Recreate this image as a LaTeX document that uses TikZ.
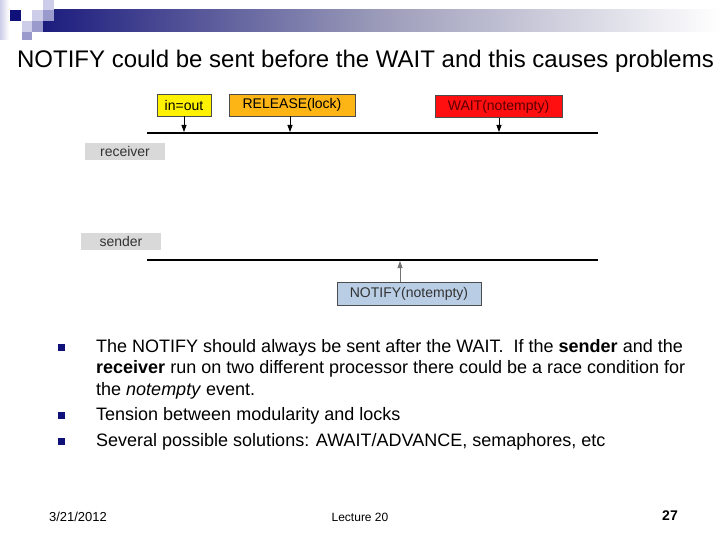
\documentclass[tikz,border=0pt]{standalone}
\usepackage{fontspec}
\setmainfont{Liberation Sans}
\usepackage{tikz}
\usetikzlibrary{arrows.meta}
\definecolor{navyblue}{HTML}{10107A}
\definecolor{lavlight}{HTML}{CDCDEA}
\definecolor{lavmid}{HTML}{9A9ACC}
\definecolor{barleft}{HTML}{1C1C7E}
\definecolor{barmid}{HTML}{9C9CBA}
\definecolor{labelgray}{HTML}{D9D9D9}
\definecolor{notifyblue}{HTML}{B9CDE5}
\definecolor{releaseorange}{HTML}{FDB515}
\definecolor{waitred}{HTML}{FF0F0F}
\definecolor{waittext}{HTML}{5A0000}

\begin{document}
\begin{tikzpicture}[x=1pt,y=-1pt,
    event/.style={draw=black!70,line width=0.6pt,minimum height=22pt,inner sep=0pt,
      font=\fontsize{14}{16}\selectfont},
    who/.style={fill=labelgray,minimum width=80pt,minimum height=17pt,inner sep=0pt,
      text=black!80,font=\fontsize{14}{16}\selectfont},
    timeline/.style={line width=2.4pt},
    tick/.style={line width=0.8pt,-{Triangle[length=7pt,width=5pt]}},
    bullet/.style={fill=navyblue,minimum size=7pt,inner sep=0pt},
    item/.style={anchor=north west,inner sep=0pt,align=left,
      font=\fontsize{18}{21.5}\selectfont}]
  \useasboundingbox (0,0) rectangle (720,540);
  % header
  \shade[left color=lavlight,right color=white] (0,0) rectangle (9,40);
  \shade[left color=barleft,right color=white,middle color=barmid] (43,10) rectangle (720,32);
  \fill[navyblue] (10,10) rectangle (21,21);
  \fill[lavlight] (32,10) rectangle (43,21);
  \fill[lavlight] (43,0) rectangle (54,10);
  \fill[lavmid] (43,10) rectangle (54,21);
  \fill[lavlight] (22,21) rectangle (32,32);
  \fill[lavmid] (32,21) rectangle (43,32);
  \fill[lavmid] (22,32) rectangle (32,40);
  \node (title) at (365.5,61) {\fontsize{24}{28}\selectfont NOTIFY could be sent before the WAIT and this causes problems};
  % receiver
  \node[event,fill=yellow,minimum width=54pt] (inout) at (184,105) {in=out};
  \node[event,fill=releaseorange,minimum width=126pt] (release) at (292,105) {RELEASE(lock)};
  \node[event,fill=waitred,text=waittext,minimum width=127pt] (wait) at (498.5,106.5) {WAIT(notempty)};
  \coordinate (rstart) at (147,133);
  \coordinate (rend) at (598,133);
  \draw[timeline] (rstart) -- (rend);
  \coordinate (r1) at (184,132);
  \coordinate (r2) at (290,132);
  \coordinate (r3) at (499,132);
  \draw[tick] (inout.south) -- (r1);
  \draw[tick] (r2 |- release.south) -- (r2);
  \draw[tick] (r3 |- wait.south) -- (r3);
  \node[who] (receiver) at (125,151.5) {receiver};
  % sender
  \node[who] (sender) at (121,241.5) {sender};
  \coordinate (sstart) at (147,260);
  \coordinate (send) at (598,260);
  \draw[timeline] (sstart) -- (send);
  \node[event,fill=notifyblue,text=black!80,minimum width=144pt,minimum height=23pt] (notify) at (409,293.5) {NOTIFY(notempty)};
  \coordinate (s1) at (400,261);
  \draw[tick,draw=black!55,{Triangle[length=7pt,width=5pt]}-] (s1) -- (s1 |- notify.north);
  % bullets
  \node[bullet] (b1) at (61,347) {};
  \node[bullet] (b2) at (61,415) {};
  \node[bullet] (b3) at (61,441) {};
  \node[item] (t1) at (96,339) {The NOTIFY should always be sent after the WAIT.\ \ If the \textbf{sender} and the\\
    \textbf{receiver} run on two different processor there could be a race condition for\\
    the \textit{notempty} event.};
  \node[item] (t2) at (96,407) {Tension between modularity and locks};
  \node[item] (t3) at (96,433) {Several possible solutions: AWAIT/ADVANCE, semaphores, etc};
  % footer
  \node[font=\fontsize{13}{15}\selectfont] (date) at (78,517) {3/21/2012};
  \node[font=\fontsize{12}{14}\selectfont] (lecture) at (360,517) {Lecture 20};
  \node[font=\fontsize{14}{16}\selectfont\bfseries] (page) at (670,516) {27};
\end{tikzpicture}
\end{document}
